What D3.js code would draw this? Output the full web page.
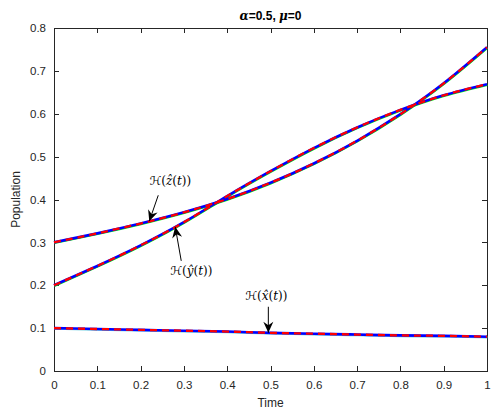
<!DOCTYPE html>
<html><head><meta charset="utf-8">
<script src="https://cdn.jsdelivr.net/npm/d3@7"></script>
<style>
html,body{margin:0;padding:0;background:#fff;}
svg{display:block;font-family:"Liberation Sans",Arial,Helvetica,sans-serif;}
</style></head>
<body>
<svg id="chart" width="491" height="412"></svg>
<script>
// ---- data ----
const tVals = [0,0.1,0.2,0.3,0.4,0.5,0.6,0.7,0.8,0.9,1.0];
const xVals = [0.100,0.098,0.096,0.094,0.092,0.089,0.087,0.085,0.083,0.082,0.080];
const yVals = [0.200,0.245,0.293,0.347,0.408,0.466,0.520,0.568,0.609,0.643,0.669];
const zVals = [0.300,0.321,0.344,0.370,0.401,0.439,0.484,0.537,0.599,0.671,0.755];
const xTicks = [0,0.1,0.2,0.3,0.4,0.5,0.6,0.7,0.8,0.9,1];
const yTicks = [0,0.1,0.2,0.3,0.4,0.5,0.6,0.7,0.8];
const seriesNames = ["x","y","z"];
const annLabels = {x:"x", y:"y", z:"z"};
const annT = {x:0.495, y:0.28, z:0.22};

const svg = d3.select("#chart");
const L=54, R=487, T=28, B=371;
const x = d3.scaleLinear().domain([0,1]).range([L,R]);
const y = d3.scaleLinear().domain([0,0.8]).range([B,T]);
const axisColor = "#262626";

svg.append("rect").attr("x",L).attr("y",T).attr("width",R-L).attr("height",B-T)
  .attr("fill","none").attr("stroke",axisColor).attr("stroke-width",1).attr("shape-rendering","crispEdges");

const gx = svg.append("g").attr("transform",`translate(0,${B})`)
  .call(d3.axisBottom(x).tickValues(xTicks).tickSizeInner(-5).tickSizeOuter(0).tickPadding(10).tickFormat(d3.format("")));
const gxt = svg.append("g").attr("transform",`translate(0,${T})`)
  .call(d3.axisTop(x).tickValues(xTicks).tickSizeInner(-5).tickSizeOuter(0).tickFormat(""));
const gy = svg.append("g").attr("transform",`translate(${L},0)`)
  .call(d3.axisLeft(y).tickValues(yTicks).tickSizeInner(-5).tickSizeOuter(0).tickPadding(8).tickFormat(d3.format("")));
const gyr = svg.append("g").attr("transform",`translate(${R},0)`)
  .call(d3.axisRight(y).tickValues(yTicks).tickSizeInner(-5).tickSizeOuter(0).tickFormat(""));
[gx,gxt,gy,gyr].forEach(g=>{
  g.select(".domain").remove();
  g.selectAll("line").attr("stroke",axisColor).attr("shape-rendering","crispEdges");
  g.selectAll("text").attr("fill",axisColor).attr("font-size","11.5px").attr("font-family","Liberation Sans, Arial, sans-serif");
});

svg.append("text").attr("x",(L+R)/2).attr("y",407).attr("text-anchor","middle")
  .attr("fill",axisColor).attr("font-size","12px").text("Time");
svg.append("text").attr("transform",`translate(20,${(T+B)/2}) rotate(-90)`).attr("text-anchor","middle")
  .attr("fill",axisColor).attr("font-size","12px").text("Population");

const title = svg.append("text").attr("x",(L+R)/2).attr("y",20).attr("text-anchor","middle")
  .attr("font-weight","bold").attr("font-size","12px").attr("fill","#000");
title.append("tspan").attr("font-style","italic").attr("font-family","DejaVu Serif, serif").text("α");
title.append("tspan").text("=0.5, ");
title.append("tspan").attr("font-style","italic").attr("font-family","DejaVu Serif, serif").text("μ");
title.append("tspan").text("=0");

const series = {x:xVals, y:yVals, z:zVals};
const line = d3.line().x((d,i)=>x(tVals[i])).y(d=>y(d)).curve(d3.curveNatural);
const plot = svg.append("g");
seriesNames.forEach(k=>{
  plot.append("path").attr("d",line(series[k])).attr("fill","none")
    .attr("stroke", k==="x" ? "#66ccdd" : "#00ff00").attr("stroke-width",2.3).attr("transform","translate(0.3,0.6)");
});
seriesNames.forEach(k=>{
  plot.append("path").attr("d",line(series[k])).attr("fill","none")
    .attr("stroke","#0000ff").attr("stroke-width",2.6);
});
seriesNames.forEach(k=>{
  plot.append("path").attr("d",line(series[k])).attr("fill","none")
    .attr("stroke","#ff0000").attr("stroke-width",2.3).attr("stroke-dasharray","7,5");
});

const defs = svg.append("defs");
defs.append("marker").attr("id","ah").attr("viewBox","-12 -6 14 12").attr("refX",0).attr("refY",0)
  .attr("markerWidth",14).attr("markerHeight",12).attr("markerUnits","userSpaceOnUse").attr("orient","auto")
  .append("path").attr("d","M0,0 L-11,-5 L-7.5,0 L-11,5 Z").attr("fill","#000");

function valAt(k,t){ return d3.scaleLinear().domain(tVals).range(series[k])(t); }
const annOffsets = {z:{tx:9,ty:-26,lx:21,ly:-36}, y:{tx:6,ty:34,lx:16,ly:48}, x:{tx:0,ty:-26,lx:-2,ly:-33}};
seriesNames.forEach(k=>{
  const px = x(annT[k]), py = y(valAt(k,annT[k]));
  const o = annOffsets[k];
  svg.append("line").attr("x1",px+o.tx).attr("y1",py+o.ty).attr("x2",px).attr("y2",py)
    .attr("stroke","#000").attr("stroke-width",1).attr("marker-end","url(#ah)");
  const t = svg.append("text").attr("x",px+o.lx).attr("y",py+o.ly).attr("text-anchor","middle")
    .attr("font-family","DejaVu Serif, serif").attr("font-size","12px").attr("fill","#000");
  t.append("tspan").attr("font-family","DejaVu Sans, sans-serif").text("ℋ");
  t.append("tspan").text("(");
  t.append("tspan").attr("font-style","italic").text(annLabels[k]+"\u0302");
  t.append("tspan").text("(");
  t.append("tspan").attr("font-style","italic").text("t");
  t.append("tspan").text("))");
});
</script>
</body></html>
